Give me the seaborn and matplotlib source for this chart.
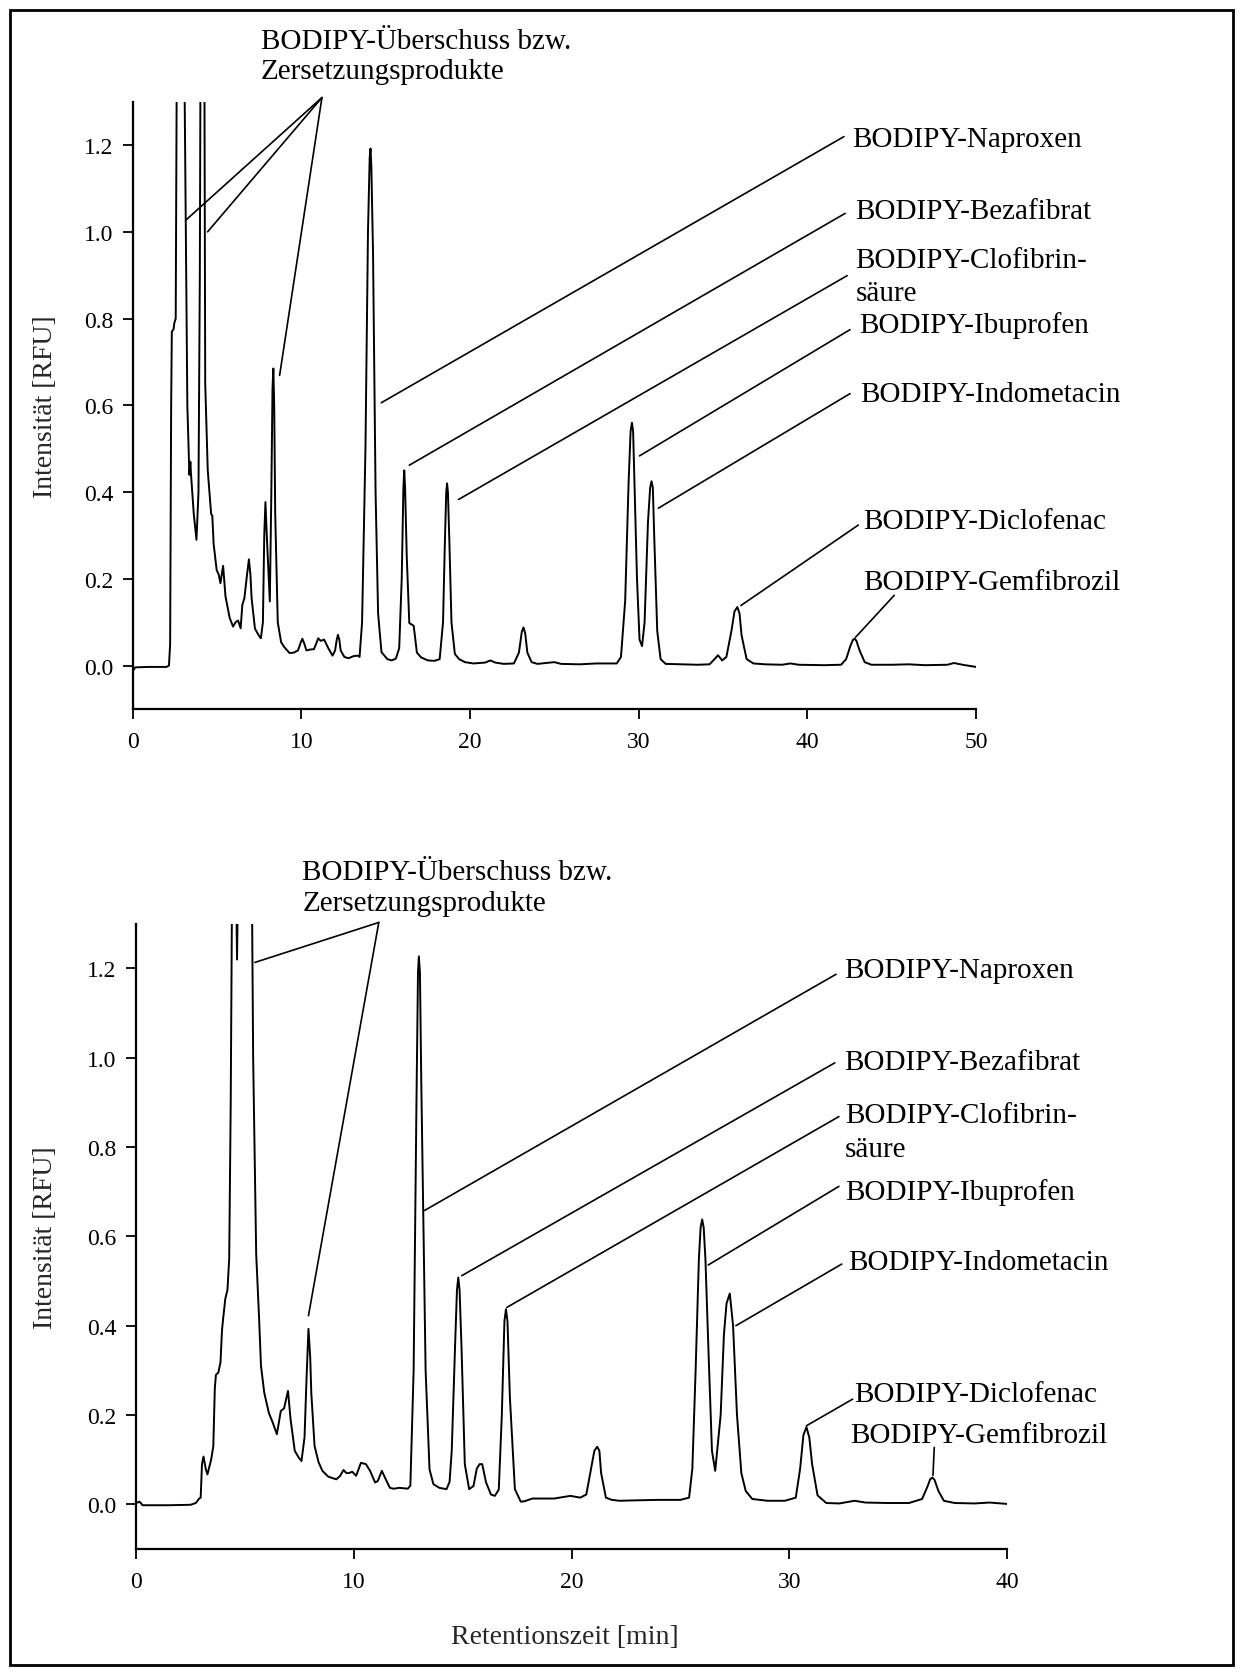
import numpy as np
import pandas as pd
import matplotlib
matplotlib.use("Agg")
import matplotlib.pyplot as plt
from matplotlib.patches import Rectangle
import seaborn as sns

# ---- chromatogram A (0-50 min) -------------------------------------------
time_a = [0.0, 0.05, 0.15, 1.0, 2.0, 2.15, 2.22, 2.28, 2.32, 2.42, 2.47, 2.55,
          2.62, 3.0, 3.05, 3.24, 3.36, 3.42, 3.46, 3.62, 3.78, 3.9, 3.98, 4.02,
          4.12, 4.25, 4.3, 4.45, 4.65, 4.72, 4.8, 4.98, 5.1, 5.2, 5.36, 5.5,
          5.75, 5.95, 6.1, 6.25, 6.4, 6.5, 6.62, 6.78, 6.89, 6.98, 7.05, 7.25,
          7.5, 7.6, 7.72, 7.8, 7.87, 7.95, 8.13, 8.22, 8.29, 8.34, 8.39, 8.45,
          8.6, 8.8, 9.0, 9.3, 9.55, 9.8, 9.95, 10.06, 10.18, 10.3, 10.5, 10.75,
          11.0, 11.15, 11.35, 11.6, 11.85, 12.0, 12.1, 12.17, 12.25, 12.33,
          12.55, 12.8, 13.1, 13.35, 13.45, 13.6, 13.8, 13.95, 14.05, 14.1, 14.15,
          14.25, 14.4, 14.55, 14.75, 15.1, 15.35, 15.6, 15.8, 15.95, 16.05, 16.1,
          16.15, 16.25, 16.4, 16.66, 16.85, 17.1, 17.5, 17.9, 18.2, 18.4, 18.5,
          18.59, 18.64, 18.69, 18.78, 18.9, 19.1, 19.35, 19.7, 20.2, 20.9, 21.2,
          21.5, 22.0, 22.6, 22.9, 23.07, 23.17, 23.27, 23.4, 23.65, 24.0, 25.0,
          25.4, 26.5, 27.5, 28.7, 28.95, 29.2, 29.4, 29.52, 29.6, 29.67, 29.75,
          29.9, 30.05, 30.2, 30.35, 30.55, 30.68, 30.76, 30.84, 30.92, 31.1,
          31.3, 31.6, 32.5, 33.5, 34.2, 34.5, 34.7, 34.95, 35.2, 35.5, 35.68,
          35.85, 35.98, 36.1, 36.4, 36.8, 37.5, 38.5, 39.0, 39.5, 41.0, 42.0,
          42.3, 42.55, 42.7, 42.8, 42.9, 43.1, 43.4, 43.8, 45.0, 46.0, 47.0,
          48.3, 48.7, 49.2, 50.0]
signal_a = [-0.002, -0.01, -0.004, -0.003, -0.003, 0.0, 0.05, 0.6, 0.77, 0.775,
            0.79, 0.80, 1.45, 1.6, 1.45, 0.6, 0.44, 0.47, 0.44, 0.35, 0.29,
            0.4, 0.9, 1.4, 1.5, 1.4, 0.65, 0.45, 0.35, 0.345, 0.28, 0.22, 0.21,
            0.19, 0.23, 0.16, 0.11, 0.09, 0.10, 0.104, 0.086, 0.14, 0.155, 0.21,
            0.245, 0.21, 0.155, 0.085, 0.068, 0.063, 0.1, 0.3, 0.377, 0.3,
            0.148, 0.4, 0.64, 0.685, 0.6, 0.35, 0.1, 0.054, 0.042, 0.029, 0.03,
            0.035, 0.052, 0.062, 0.05, 0.035, 0.037, 0.038, 0.063, 0.057, 0.06,
            0.04, 0.023, 0.035, 0.06, 0.071, 0.06, 0.035, 0.02, 0.017, 0.022,
            0.023, 0.02, 0.1, 0.5, 1.0, 1.17, 1.192, 1.15, 0.95, 0.4, 0.12,
            0.031, 0.015, 0.012, 0.016, 0.04, 0.2, 0.41, 0.45, 0.41, 0.25,
            0.098, 0.092, 0.03, 0.019, 0.012, 0.011, 0.015, 0.1, 0.27, 0.4,
            0.42, 0.4, 0.28, 0.1, 0.027, 0.015, 0.008, 0.005, 0.007, 0.012,
            0.007, 0.004, 0.005, 0.03, 0.078, 0.088, 0.075, 0.03, 0.008, 0.004,
            0.008, 0.004, 0.003, 0.005, 0.005, 0.02, 0.15, 0.42, 0.54, 0.56,
            0.54, 0.42, 0.2, 0.06, 0.045, 0.1, 0.33, 0.41, 0.425, 0.41, 0.3,
            0.08, 0.015, 0.004, 0.003, 0.002, 0.003, 0.015, 0.024, 0.012, 0.02,
            0.08, 0.125, 0.135, 0.12, 0.07, 0.015, 0.005, 0.003, 0.002, 0.005,
            0.002, 0.001, 0.002, 0.015, 0.045, 0.059, 0.062, 0.058, 0.035,
            0.008, 0.002, 0.002, 0.003, 0.001, 0.002, 0.006, 0.002, -0.003]

# ---- chromatogram B (0-40 min) -------------------------------------------
time_b = [0.0, 0.1, 0.15, 0.22, 0.3, 1.5, 2.5, 2.75, 2.9, 2.97, 3.03, 3.1, 3.2,
          3.28, 3.45, 3.55, 3.62, 3.67, 3.78, 3.88, 3.95, 4.0, 4.1, 4.2, 4.28,
          4.35, 4.42, 4.58, 4.64, 4.7, 5.2, 5.32, 5.38, 5.52, 5.65, 5.74, 5.89,
          6.1, 6.28, 6.47, 6.65, 6.8, 6.98, 7.1, 7.29, 7.47, 7.6, 7.74, 7.83,
          7.92, 8.0, 8.05, 8.2, 8.38, 8.56, 8.83, 9.2, 9.38, 9.53, 9.66, 9.78,
          9.93, 10.11, 10.33, 10.56, 10.75, 10.98, 11.1, 11.29, 11.47, 11.66,
          11.84, 12.1, 12.48, 12.6, 12.75, 12.88, 12.95, 12.99, 13.04, 13.1,
          13.3, 13.48, 13.66, 13.93, 14.26, 14.4, 14.5, 14.65, 14.74, 14.8,
          14.86, 14.95, 15.1, 15.3, 15.5, 15.65, 15.78, 15.9, 16.07, 16.3,
          16.48, 16.66, 16.8, 16.92, 16.99, 17.06, 17.17, 17.4, 17.67, 17.85,
          18.2, 19.2, 19.95, 20.4, 20.68, 20.9, 21.05, 21.18, 21.28, 21.36,
          21.58, 21.85, 22.2, 23.0, 24.0, 25.0, 25.4, 25.55, 25.7, 25.85, 25.93,
          26.0, 26.07, 26.15, 26.3, 26.45, 26.6, 26.85, 27.0, 27.12, 27.27,
          27.42, 27.6, 27.8, 28.0, 28.3, 29.0, 29.8, 30.3, 30.5, 30.65, 30.79,
          30.92, 31.05, 31.3, 31.7, 32.3, 33.0, 33.5, 34.5, 35.5, 36.1, 36.35,
          36.47, 36.57, 36.67, 36.85, 37.1, 37.6, 38.5, 39.2, 39.7, 40.0]
signal_b = [0.005, 0.004, 0.006, 0.003, -0.002, -0.002, -0.001, 0.003, 0.013,
            0.015, 0.09, 0.107, 0.08, 0.067, 0.1, 0.13, 0.26, 0.29, 0.295,
            0.318, 0.39, 0.415, 0.46, 0.48, 0.55, 0.9, 1.45, 1.45, 1.22, 1.45,
            1.5, 1.4, 1.0, 0.56, 0.42, 0.31, 0.25, 0.205, 0.183, 0.157, 0.209,
            0.215, 0.254, 0.19, 0.12, 0.105, 0.097, 0.15, 0.28, 0.393, 0.33,
            0.25, 0.131, 0.095, 0.075, 0.062, 0.056, 0.064, 0.077, 0.07, 0.07,
            0.073, 0.064, 0.093, 0.09, 0.075, 0.049, 0.052, 0.075, 0.056, 0.037,
            0.035, 0.037, 0.035, 0.042, 0.3, 0.9, 1.19, 1.227, 1.19, 0.95, 0.3,
            0.078, 0.045, 0.037, 0.034, 0.05, 0.12, 0.35, 0.48, 0.508, 0.48,
            0.35, 0.09, 0.034, 0.041, 0.08, 0.09, 0.09, 0.05, 0.022, 0.019,
            0.033, 0.2, 0.41, 0.437, 0.41, 0.24, 0.034, 0.006, 0.007, 0.013,
            0.013, 0.019, 0.015, 0.022, 0.08, 0.12, 0.129, 0.12, 0.07, 0.015,
            0.01, 0.008, 0.009, 0.01, 0.01, 0.015, 0.08, 0.3, 0.55, 0.62, 0.638,
            0.62, 0.55, 0.33, 0.12, 0.075, 0.2, 0.38, 0.45, 0.472, 0.4, 0.2,
            0.07, 0.03, 0.012, 0.008, 0.008, 0.015, 0.08, 0.155, 0.173, 0.15,
            0.09, 0.02, 0.003, 0.002, 0.008, 0.004, 0.003, 0.003, 0.012, 0.04,
            0.056, 0.06, 0.055, 0.03, 0.008, 0.003, 0.002, 0.004, 0.002, 0.001]

yticks = [0.0, 0.2, 0.4, 0.6, 0.8, 1.0, 1.2]
xticks_a = [0, 10, 20, 30, 40, 50]
xticks_b = [0, 10, 20, 30, 40]

excess_label = ["BODIPY-Überschuss bzw.", "Zersetzungsprodukte"]

# compound labels: text lines, text anchor (left/baseline), leader line (upper end, lower end)
labels_a = [
    (["BODIPY-Naproxen"], (42.68, 1.197), (42.17, 1.2195), (14.74, 0.606)),
    (["BODIPY-Bezafibrat"], (42.85, 1.032), (42.24, 1.0425), (16.40, 0.462)),
    (["BODIPY-Clofibrin-", "säure"], (42.85, 0.919), (42.36, 0.899), (19.32, 0.383)),
    (["BODIPY-Ibuprofen"], (43.09, 0.768), (42.53, 0.7745), (30.05, 0.4835)),
    (["BODIPY-Indometacin"], (43.14, 0.609), (42.53, 0.627), (31.17, 0.363)),
    (["BODIPY-Diclofenac"], (43.33, 0.317), (43.02, 0.324), (36.06, 0.1385)),
    (["BODIPY-Gemfibrozil"], (43.33, 0.1756), (45.15, 0.162), (42.85, 0.065)),
]
excess_a = dict(text=(7.6, 1.423), step=0.069, hub=(11.22, 1.3095),
                ends=[(3.15, 1.027), (4.44, 1.0), (8.71, 0.669)])

labels_b = [
    (["BODIPY-Naproxen"], (32.53, 1.181), (32.15, 1.187), (13.25, 0.658)),
    (["BODIPY-Bezafibrat"], (32.53, 0.974), (32.09, 0.9886), (14.96, 0.512)),
    (["BODIPY-Clofibrin-", "säure"], (32.57, 0.8564), (32.28, 0.8683), (17.03, 0.441)),
    (["BODIPY-Ibuprofen"], (32.57, 0.684), (32.28, 0.712), (26.28, 0.536)),
    (["BODIPY-Indometacin"], (32.72, 0.528), (32.41, 0.538), (27.55, 0.40)),
    (["BODIPY-Diclofenac"], (32.98, 0.2315), (32.91, 0.2355), (30.79, 0.176)),
    (["BODIPY-Gemfibrozil"], (32.79, 0.139), (36.66, 0.1274), (36.6, 0.065)),
]
excess_b = dict(text=(7.645, 1.40), step=0.0695, hub=(11.15, 1.303),
                ends=[(5.46, 1.2135), (7.92, 0.4224)])

sns.set_style("ticks")
plt.rcParams["font.family"] = ["Liberation Serif", "DejaVu Serif"]

W, H = 1241, 1674
fig = plt.figure(figsize=(W / 100, H / 100), dpi=100)
fig.patch.set_facecolor("white")

ax_a = fig.add_axes([132.7 / W, 1 - 710 / H, (976 - 132.7) / W, (710 - 102.7) / H])
ax_b = fig.add_axes([136 / W, 1 - 1550 / H, (1007 - 136) / W, (1550 - 924.8) / H])

LBL = 21
AXL = 20
TICK = 17
LW_TRACE = 1.4
LW_LEAD = 1.2


def style_axes(ax, xmax, xticks):
    ax.set_xlim(0, xmax)
    ax.set_ylim(-0.1, 1.3)
    ax.set_xticks(xticks)
    ax.set_yticks(yticks)
    ax.set_yticklabels([f"{v:.1f}" for v in yticks])
    ax.set_xticklabels([str(v) for v in xticks])
    for s in ("top", "right"):
        ax.spines[s].set_visible(False)
    for s in ("left", "bottom"):
        ax.spines[s].set_linewidth(1.6)
        ax.spines[s].set_color("black")
    ax.tick_params(axis="both", direction="out", length=7, width=1.3,
                   labelsize=TICK, colors="black")
    ax.tick_params(axis="y", pad=7)
    ax.tick_params(axis="x", pad=9)
    ax.set_xlabel("")
    ax.set_ylabel("")
    ax.set_facecolor("white")


def annotate(ax, labels, excess):
    for lines, (tx, ty), upper, lower in labels:
        ax.annotate("", xy=lower, xytext=upper, annotation_clip=False,
                    arrowprops=dict(arrowstyle="-", lw=LW_LEAD, color="black",
                                    shrinkA=0, shrinkB=0))
        for i, line in enumerate(lines):
            ax.text(tx, ty - i * 0.0755, line, fontsize=LBL, ha="left",
                    va="baseline", color="black")
    ex, ey = excess["text"]
    for i, line in enumerate(excess_label):
        ax.text(ex, ey - i * excess["step"], line, fontsize=LBL, ha="left",
                va="baseline", color="black")
    for end in excess["ends"]:
        ax.annotate("", xy=end, xytext=excess["hub"], annotation_clip=False,
                    arrowprops=dict(arrowstyle="-", lw=LW_LEAD, color="black",
                                    shrinkA=0, shrinkB=0))


df_a = pd.DataFrame({"Retentionszeit": time_a, "Intensität": signal_a})
df_b = pd.DataFrame({"Retentionszeit": time_b, "Intensität": signal_b})

sns.lineplot(data=df_a, x="Retentionszeit", y="Intensität", ax=ax_a,
             color="black", lw=LW_TRACE, estimator=None, sort=False)
sns.lineplot(data=df_b, x="Retentionszeit", y="Intensität", ax=ax_b,
             color="black", lw=LW_TRACE, estimator=None, sort=False)

style_axes(ax_a, 50, xticks_a)
style_axes(ax_b, 40, xticks_b)
annotate(ax_a, labels_a, excess_a)
annotate(ax_b, labels_b, excess_b)

fig.text(46 / W, 1 - 407 / H, "Intensität [RFU]", rotation=90, fontsize=AXL,
         ha="center", va="center")
fig.text(46 / W, 1 - 1238 / H, "Intensität [RFU]", rotation=90, fontsize=AXL,
         ha="center", va="center")
fig.text(565 / W, 1 - 1638 / H, "Retentionszeit [min]", fontsize=AXL,
         ha="center", va="center")

# outer frame
fig.patches.append(Rectangle((9.5 / W, 1 - 1666 / H), (1233 - 9.5) / W,
                             (1666 - 10.7) / H, transform=fig.transFigure,
                             fill=False, lw=2.0, edgecolor="black"))

fig.savefig("out.png", dpi=100, facecolor="white")
